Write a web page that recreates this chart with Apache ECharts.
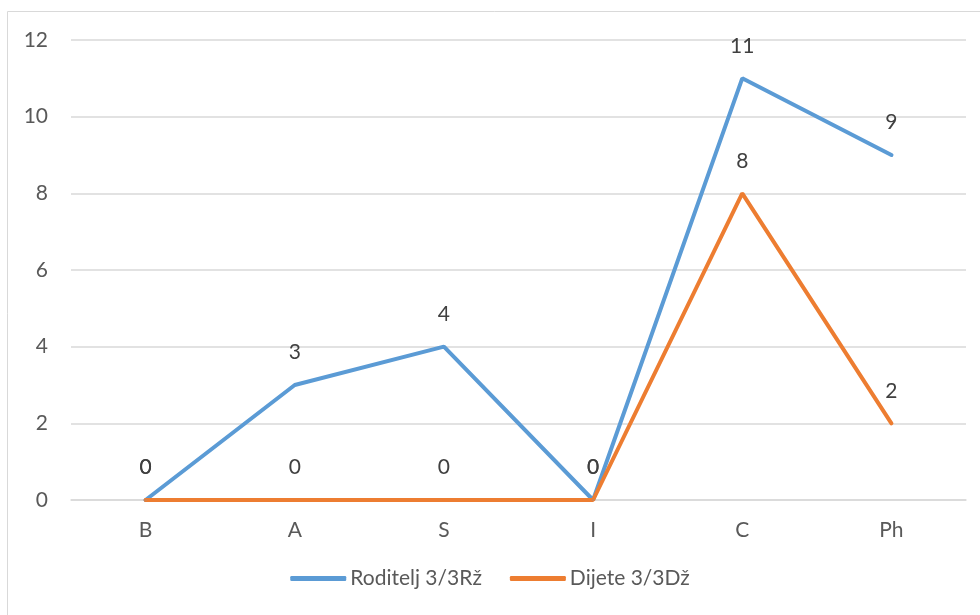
<!DOCTYPE html>
<html>
<head>
<meta charset="utf-8">
<script src="https://cdn.jsdelivr.net/npm/echarts@6/dist/echarts.min.js"></script>
<style>
  html, body { margin: 0; padding: 0; background: #fff; }
  #chart { width: 980px; height: 615px; }
</style>
</head>
<body>
<div id="chart"></div>
<script>
  const categories = ['B', 'A', 'S', 'I', 'C', 'Ph']
  const roditelj = [0, 3, 4, 0, 11, 9]
  const dijete = [0, 0, 0, 0, 8, 2]
  const yTicks = { min: 0, max: 12, interval: 2 }

  const font = 'Lato, "Open Sans", sans-serif'
  const chart = echarts.init(document.getElementById('chart'))

  const lineSeries = (name, data, color) => ({
    name: name,
    type: 'line',
    data: data,
    symbol: 'circle',
    symbolSize: 2,
    itemStyle: { color: color },
    lineStyle: { color: color, width: 4, cap: 'round' },
    label: {
      show: true,
      position: 'top',
      distance: 21,
      color: '#404040',
      fontSize: 21,
      fontFamily: font
    },
    emphasis: { disabled: true },
    animation: false
  })

  chart.setOption({
    textStyle: { fontFamily: font },
    graphic: [{
      type: 'rect',
      shape: { x: 7.5, y: 11.5, width: 990, height: 620 },
      style: { fill: 'none', stroke: '#d9d9d9', lineWidth: 1 },
      silent: true
    }],
    grid: { left: 71, right: 14, top: 40, bottom: 115 },
    xAxis: {
      type: 'category',
      data: categories,
      boundaryGap: true,
      axisLine: { lineStyle: { color: '#d9d9d9', width: 1.5 } },
      axisTick: { show: false },
      axisLabel: { color: '#595959', fontSize: 21, margin: 20, fontFamily: font }
    },
    yAxis: {
      type: 'value',
      min: yTicks.min,
      max: yTicks.max,
      interval: yTicks.interval,
      axisLine: { show: false },
      axisTick: { show: false },
      axisLabel: { color: '#595959', fontSize: 21, margin: 23, fontFamily: font },
      splitLine: { lineStyle: { color: '#d9d9d9', width: 1.5 } }
    },
    legend: {
      bottom: 21,
      left: 'center',
      icon: 'roundRect',
      itemWidth: 56,
      itemHeight: 5,
      itemGap: 28,
      textStyle: { color: '#595959', fontSize: 21, fontFamily: font, padding: [0, 0, 0, -1] },
      data: ['Roditelj 3/3Rž', 'Dijete 3/3Dž']
    },
    series: [
      lineSeries('Roditelj 3/3Rž', roditelj, '#5b9bd5'),
      lineSeries('Dijete 3/3Dž', dijete, '#ed7d31')
    ]
  })
</script>
</body>
</html>
